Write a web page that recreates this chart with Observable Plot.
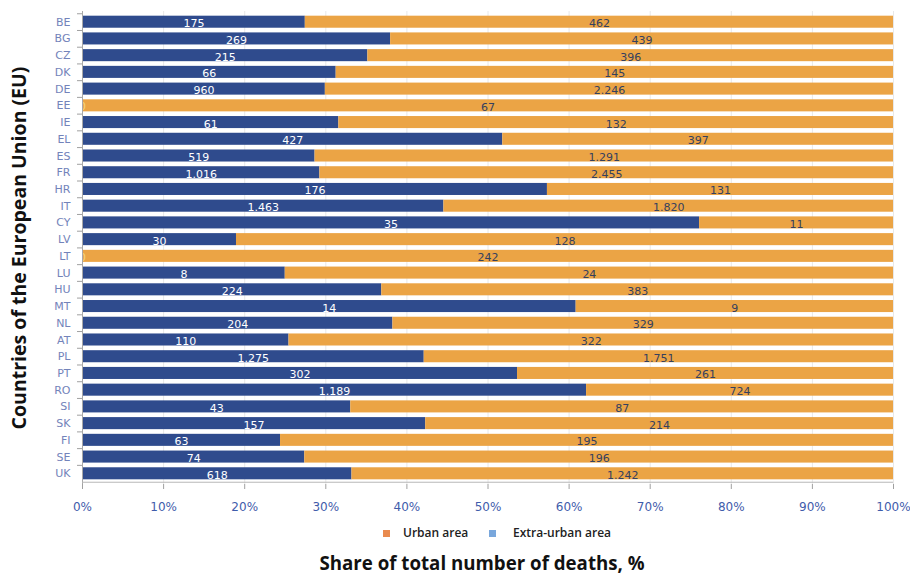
<!DOCTYPE html>
<html>
<head>
<meta charset="utf-8">
<script src="https://cdn.jsdelivr.net/npm/d3@7"></script>
<script src="https://cdn.jsdelivr.net/npm/@observablehq/plot@0.6"></script>
<style>
  html, body { margin: 0; padding: 0; background: #fff; }
  #wrap { position: relative; width: 910px; height: 574px; overflow: hidden; }
  #chart svg { display: block; }
  .leg { position: absolute; top: 525px; height: 16px; line-height: 16px; font-family: "Open Sans", sans-serif; font-weight: 600; font-size: 12px; color: #222; white-space: nowrap; }
  .sw { position: absolute; width: 7px; height: 7px; top: 530px; }
  #xtitle { position: absolute; left: 230px; width: 504px; top: 554px; height: 19px; text-align: center; font-family: "Open Sans", sans-serif; font-weight: 700; font-size: 18.7px; color: #111; line-height: 1; white-space: nowrap; }
</style>
</head>
<body>
<div id="wrap">
  <div id="chart"></div>
  <div class="sw" style="left:383px;background:#e98a4e"></div>
  <div class="leg" style="left:403px">Urban area</div>
  <div class="sw" style="left:489px;background:#79a7dc"></div>
  <div class="leg" style="left:513px">Extra-urban area</div>
  <div id="xtitle">Share of total number of deaths, %</div>
</div>
<script>
const countries = ["BE","BG","CZ","DK","DE","EE","IE","EL","ES","FR","HR","IT","CY","LV","LT","LU","HU","MT","NL","AT","PL","PT","RO","SI","SK","FI","SE","UK"];
const extraUrban = [175,269,215,66,960,0,61,427,519,1016,176,1463,35,30,0,8,224,14,204,110,1275,302,1189,43,157,63,74,618];
const urban = [462,439,396,145,2246,67,132,397,1291,2455,131,1820,11,128,242,24,383,9,329,322,1751,261,724,87,214,195,196,1242];
const seriesNames = ["Extra-urban area", "Urban area"];
const xTicks = [0,0.1,0.2,0.3,0.4,0.5,0.6,0.7,0.8,0.9,1];

const blue = "#2f4b8d", orange = "#eba445";
const fmt = d3.formatLocale({decimal: ",", thousands: ".", grouping: [3], currency: ["", ""]}).format(",");

const long = [];
countries.forEach((c, i) => {
  long.push({country: c, series: seriesNames[0], value: extraUrban[i]});
  long.push({country: c, series: seriesNames[1], value: urban[i]});
});
const rows = countries.map((c, i) => {
  const t = extraUrban[i] + urban[i];
  return {country: c, extra: extraUrban[i], urban: urban[i], s: extraUrban[i] / t};
});

const H = 519, mT = 11, mB = 35;
const step = (H - mT - mB) / countries.length;

const plot = Plot.plot({
  width: 910,
  height: H,
  marginLeft: 82,
  marginRight: 17,
  marginTop: mT,
  marginBottom: mB,
  style: {fontFamily: "DejaVu Sans, sans-serif", background: "white"},
  x: {domain: [0, 1]},
  y: {domain: countries, padding: 0.28, round: false},
  color: {domain: seriesNames, range: [blue, orange]},
  marks: [
    Plot.gridX(xTicks, {stroke: "#d8d8d8", strokeOpacity: 0.6}),
    Plot.barX(long, Plot.stackX({offset: "normalize", x: "value", y: "country", fill: "series"})),
    Plot.text(rows.filter(d => d.extra > 0), {x: d => d.s / 2, y: "country", text: d => fmt(d.extra),
      fill: "white", fontSize: 11, dy: 1.5}),
    Plot.text(rows.filter(d => d.extra === 0), {x: d => d.s / 2, y: "country", text: d => fmt(d.extra),
      fill: "#f6d47e", fontSize: 11, dy: 1, clip: true}),
    Plot.text(rows, {x: d => (d.s + 1) / 2, y: "country", text: d => fmt(d.urban),
      fill: "#34405f", fontSize: 11, dy: 1.5}),
    Plot.ruleX([0], {stroke: "#a8a8a8"}),
    Plot.ruleY([countries[countries.length - 1]], {y: d => d, dy: step / 2, stroke: "#b8b8b8"}),
    Plot.ruleY(countries, {y: d => d, x1: 0, x2: 0, insetLeft: -5, dy: -step / 2, stroke: "#a0a0a0"}),
    Plot.axisY({tickSize: 0, tickPadding: 12, fontSize: 11, fill: "#7383ba", label: null}),
    Plot.axisX({ticks: xTicks, tickFormat: d3.format(".0%"), tickSize: 5, tickPadding: 13, fontSize: 12, fill: "#3f5cab", stroke: "#a0a0a0", label: null}),
    Plot.text(["Countries of the European Union (EU)"], {frameAnchor: "left", textAnchor: "middle", rotate: -90, dx: -63,
      fontFamily: "Open Sans, sans-serif", fontWeight: 700, fontSize: 19.5, fill: "#111"})
  ]
});
document.getElementById("chart").appendChild(plot);
</script>
</body>
</html>
